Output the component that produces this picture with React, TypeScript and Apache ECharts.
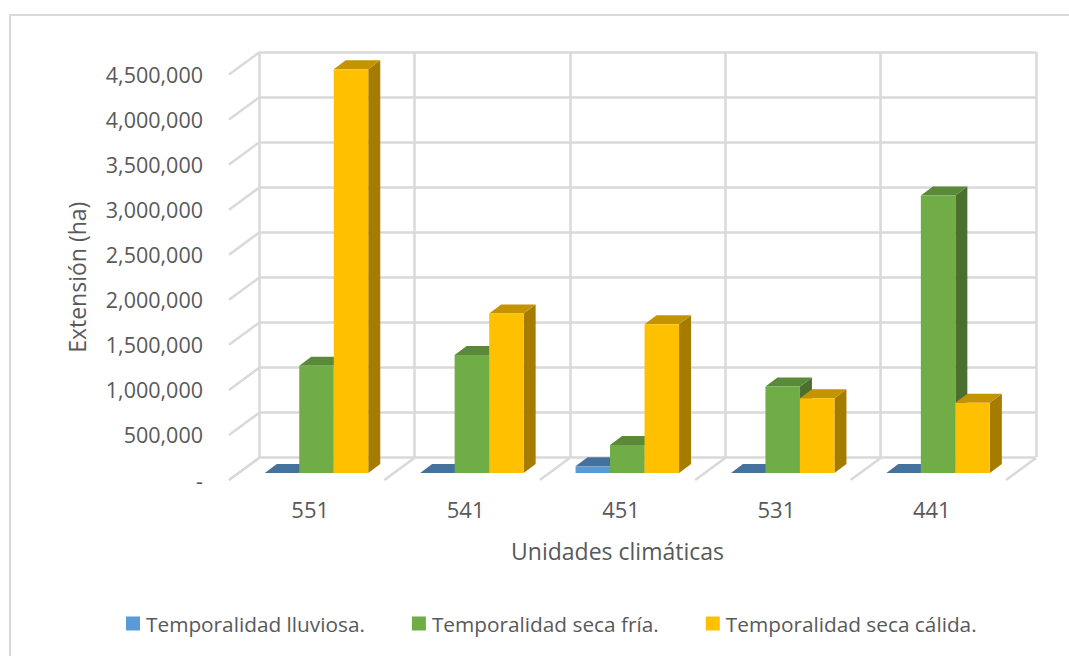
import React, { useEffect, useRef } from "react";
import * as echarts from "echarts";

const categories = ["551", "541", "451", "531", "441"];
const seriesNames = [
  "Temporalidad lluviosa.",
  "Temporalidad seca fría.",
  "Temporalidad seca cálida.",
];
const lluviosa = [0, 0, 75000, 0, 0];
const secaFria = [1190000, 1310000, 310000, 960000, 3080000];
const secaCalida = [4480000, 1770000, 1650000, 830000, 780000];
const axisTicks = [0, 500000, 1000000, 1500000, 2000000, 2500000, 3000000, 3500000, 4000000, 4500000];
const floorEdges = [0, 1, 2, 3, 4, 5];

const faceColors = [
  { front: "#5B9BD5", top: "#44729D", side: "#3A6186" },
  { front: "#70AD47", top: "#5A8A39", side: "#4A6F2E" },
  { front: "#FFC000", top: "#C49300", side: "#A67C00" },
];

// Pseudo-3D geometry in pixels
const WALL_DX = 30;
const WALL_DY = -22;
const BAR_SHIFT_X = 9.8;
const BAR_SHIFT_Y = -7;
const BAR_DEPTH_X = 12;
const BAR_DEPTH_Y = -9;
const BAR_WIDTH = 34.5;
const GRID_COLOR = "#D9D9D9";
const TEXT_COLOR = "#595959";
const FONT = "'Open Sans', sans-serif";

function prism(seriesIndex: number) {
  const colors = faceColors[seriesIndex];
  return (_params: any, api: any) => {
    const cat = api.value(0);
    const val = api.value(1);
    const [cx, yTop] = api.coord([cat, val]);
    const [, yBase] = api.coord([cat, 0]);
    const x0 = cx + BAR_SHIFT_X + (seriesIndex - 1.5) * BAR_WIDTH;
    const x1 = x0 + BAR_WIDTH;
    const top = yTop + BAR_SHIFT_Y;
    const base = yBase + BAR_SHIFT_Y;
    const face = (points: number[][], fill: string) => ({
      type: "polygon",
      shape: { points },
      style: { fill, stroke: null },
    });
    return {
      type: "group",
      children: [
        face(
          [
            [x1, top],
            [x1 + BAR_DEPTH_X, top + BAR_DEPTH_Y],
            [x1 + BAR_DEPTH_X, base + BAR_DEPTH_Y],
            [x1, base],
          ],
          colors.side
        ),
        face(
          [
            [x0, top],
            [x0 + BAR_DEPTH_X, top + BAR_DEPTH_Y],
            [x1 + BAR_DEPTH_X, top + BAR_DEPTH_Y],
            [x1, top],
          ],
          colors.top
        ),
        face(
          [
            [x0, top],
            [x1, top],
            [x1, base],
            [x0, base],
          ],
          colors.front
        ),
      ],
    };
  };
}

const wallLine = (x: number, y: number) => ({
  type: "line",
  shape: { x1: x, y1: y, x2: x + WALL_DX, y2: y + WALL_DY },
  style: { stroke: GRID_COLOR, lineWidth: 2.5 },
});

export default function App() {
  const ref = useRef<HTMLDivElement>(null);

  useEffect(() => {
    if (!ref.current) return;
    const chart = echarts.init(ref.current, undefined, { renderer: "svg" });
    const values = [lluviosa, secaFria, secaCalida];
    chart.setOption({
      animation: false,
      backgroundColor: "#FFFFFF",
      graphic: [
        {
          type: "rect",
          shape: { x: 10, y: 15, width: 1100, height: 700 },
          style: { fill: "none", stroke: GRID_COLOR, lineWidth: 2 },
          silent: true,
        },
      ],
      legend: {
        left: 121,
        top: 608,
        itemWidth: 14,
        itemHeight: 14,
        itemGap: 47,
        icon: "rect",
        data: seriesNames,
        textStyle: { color: TEXT_COLOR, fontFamily: FONT, fontSize: 20.8, padding: [0, 0, 0, 1] },
      },
      grid: [
        // back wall of the plot box
        { left: 259, width: 777, top: 52, height: 405 },
        // front plane: carries the axis labels and the bars
        { left: 229, width: 777, top: 74.5, height: 405.5 },
      ],
      xAxis: [
        {
          gridIndex: 0,
          type: "value",
          min: 0,
          max: 5,
          interval: 1,
          axisLine: { show: false },
          axisTick: { show: false },
          axisLabel: { show: false },
          splitLine: { show: true, lineStyle: { color: GRID_COLOR, width: 2.5 } },
        },
        {
          gridIndex: 1,
          type: "category",
          data: categories,
          axisLine: { show: false },
          axisTick: { show: false },
          axisLabel: {
            color: TEXT_COLOR,
            fontFamily: FONT,
            fontSize: 22,
            margin: 18,
            padding: [0, 0, 0, 7],
          },
          splitLine: { show: false },
          name: "Unidades climáticas",
          nameLocation: "middle",
          nameGap: 59,
          nameTextStyle: { color: TEXT_COLOR, fontFamily: FONT, fontSize: 23 },
        },
      ],
      yAxis: [
        {
          gridIndex: 0,
          type: "value",
          min: 0,
          max: 4500000,
          interval: 500000,
          axisLine: { show: false },
          axisTick: { show: false },
          axisLabel: { show: false },
          splitLine: { show: true, lineStyle: { color: GRID_COLOR, width: 2.5 } },
        },
        {
          gridIndex: 1,
          type: "value",
          min: 0,
          max: 4500000,
          interval: 500000,
          axisLine: { show: false },
          axisTick: { show: false },
          splitLine: { show: false },
          axisLabel: {
            color: TEXT_COLOR,
            fontFamily: FONT,
            fontSize: 21.5,
            margin: 26,
            formatter: (v: number) => (v === 0 ? "-" : v.toLocaleString("en-US")),
          },
          name: "Extensión (ha)",
          nameLocation: "middle",
          nameGap: 141,
          nameTextStyle: { color: TEXT_COLOR, fontFamily: FONT, fontSize: 23 },
        },
      ],
      series: [
        {
          type: "custom",
          xAxisIndex: 1,
          yAxisIndex: 1,
          silent: true,
          z: 1,
          data: axisTicks.map((t) => [0, t]),
          renderItem: (_p: any, api: any) => {
            const band = api.size([1, 0])[0];
            const [cx, y] = api.coord([0, api.value(1)]);
            return wallLine(cx - band / 2, y);
          },
        },
        {
          type: "custom",
          xAxisIndex: 1,
          yAxisIndex: 1,
          silent: true,
          z: 1,
          data: floorEdges.map((e) => [e, 0]),
          renderItem: (_p: any, api: any) => {
            const band = api.size([1, 0])[0];
            const [cx, y] = api.coord([api.value(0), 0]);
            return wallLine(cx - band / 2, y);
          },
        },
        ...seriesNames.map((name, s) => ({
          name,
          type: "custom",
          xAxisIndex: 1,
          yAxisIndex: 1,
          silent: true,
          z: 2 + s,
          itemStyle: { color: faceColors[s].front },
          encode: { x: 0, y: 1 },
          data: values[s].map((v, i) => [i, v]),
          renderItem: prism(s),
        })),
      ],
    });
    return () => chart.dispose();
  }, []);

  return (
    <div
      ref={ref}
      style={{ position: "fixed", left: 0, top: 0, width: 1069, height: 656 }}
    />
  );
}
